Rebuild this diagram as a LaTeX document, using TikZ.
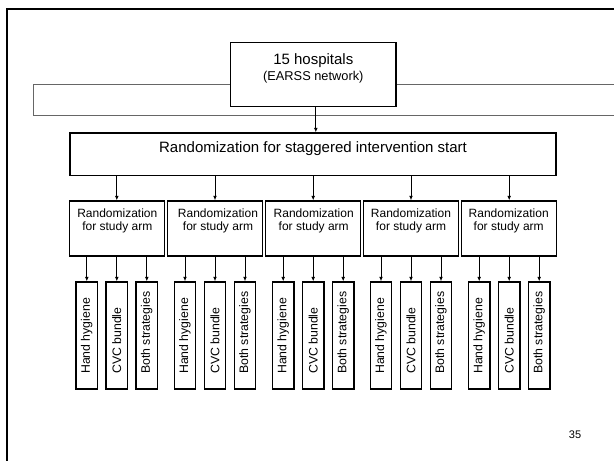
\documentclass[tikz,border=0pt]{standalone}
\usepackage{fontspec}
\setmainfont{Liberation Sans}
\usetikzlibrary{arrows.meta}
\begin{document}
\begin{tikzpicture}[x=1pt,y=-1pt,
  slideframe/.style={line width=2.2pt},
  band/.style={draw=black!60,line width=1pt},
  box/.style={draw,line width=1.3pt,fill=white,inner sep=0pt},
  flow/.style={line width=0.9pt,-{Latex[length=4.5pt,width=3.8pt]}},
  bigtext/.style={font=\fontsize{15}{18}\selectfont,inner sep=0pt},
  midtext/.style={font=\fontsize{12.8}{15}\selectfont,inner sep=0pt},
  armtext/.style={font=\fontsize{12}{13.5}\selectfont,align=center,inner sep=0pt},
  leaftext/.style={font=\fontsize{12.3}{14}\selectfont,inner sep=0pt,rotate=90,anchor=west},
  pagetext/.style={font=\fontsize{11}{13}\selectfont,inner sep=0pt}
]
\clip (0,0) rectangle (614,461);
\fill[white] (0,0) rectangle (614,461);

% slide border and the band behind the top box
\draw[slideframe] (7.3,9) rectangle (650,500);
\draw[band] (33.3,84.5) rectangle (650,115);

% top box
\node[box,minimum width=165.3pt,minimum height=64.4pt] (hosp) at (313.3,74.5) {};
\node[bigtext] (hospA) at (313.3,60.7) {15 hospitals};
\node[midtext] (hospB) at (313.3,77.3) {(EARSS network)};

% staggered start randomization
\node[box,minimum width=486pt,minimum height=42.5pt] (rand) at (313,154.25) {};
\node[bigtext] (randT) at (313,148.5) {Randomization for staggered intervention start};
\draw[flow] ([xshift=2.5pt]hosp.south) -- ([xshift=2.5pt]hosp.south |- rand.north);

% per-hospital randomization and study arms
\foreach \i/\cx/\tx in {1/116.8/0.5,2/215/3,3/313.2/0.5,4/411/0,5/509.2/-0.5}{
  \node[box,minimum width=95pt,minimum height=55pt] (sub\i) at (\cx,228.5) {};
  \node[armtext] (subT\i) at ({\cx+\tx},221) {Randomization\\for study arm};
  \draw[flow] (sub\i.north |- rand.south) -- (sub\i.north);
  \foreach \j/\dx/\t in {a/-30/Hand hygiene,b/0/CVC bundle,c/30/Both strategies}{
    \node[box,minimum width=21.5pt,minimum height=107pt] (leaf\i\j) at ({\cx+\dx},335.5) {};
    \node[leaftext] (leafT\i\j) at ({\cx+\dx},374) {\t};
    \draw[flow] (leaf\i\j.north |- sub\i.south) -- (leaf\i\j.north);
  }
}

% page number
\node[pagetext] (pagenum) at (575,435) {35};
\end{tikzpicture}
\end{document}
